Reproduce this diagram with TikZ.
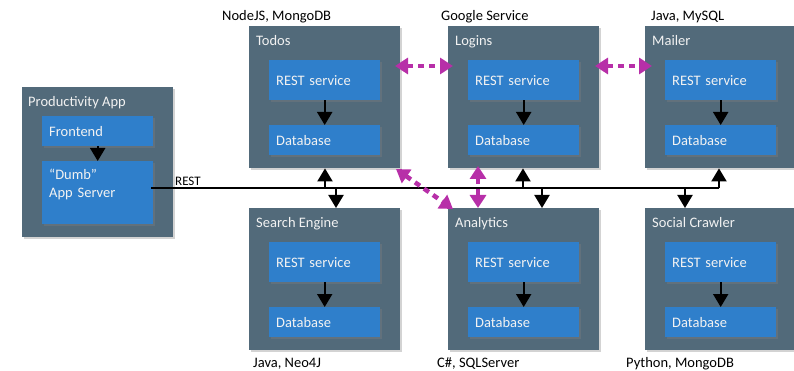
\documentclass[tikz,border=0pt]{standalone}
\usepackage{fontspec}
\setmainfont{Carlito}
\usetikzlibrary{arrows.meta,shadows,calc}
\definecolor{slate}{RGB}{82,106,122}
\definecolor{svcblue}{RGB}{47,127,203}
\definecolor{mag}{RGB}{183,47,168}
\definecolor{txt}{RGB}{242,242,242}
\tikzset{
  shd/.style={drop shadow={opacity=0.35, shadow xshift=2pt, shadow yshift=-2pt}},
  outerbox/.style={fill=slate, minimum width=151pt, minimum height=142pt, anchor=north west, inner sep=0pt, shd},
  innerbox/.style={fill=svcblue, text=txt, anchor=north west, minimum width=111pt, minimum height=#1, text width=97pt, inner xsep=7pt, inner ysep=0pt, align=left, font=\fontsize{14.5}{18.3}\selectfont, shd},
  boxtitle/.style={text=txt, anchor=base west, inner sep=0pt, font=\fontsize{14.5}{17}\selectfont},
  techlabel/.style={text=black, anchor=base west, inner sep=0pt, font=\fontsize{14.5}{17}\selectfont},
  blk/.style={line width=2pt, -{Triangle[length=13pt, width=15pt]}},
  mg/.style={mag, line width=4.5pt, dash pattern=on 6pt off 5pt, {Triangle[length=13pt,width=16pt]}-{Triangle[length=13pt,width=16pt]}}
}
\newcommand\mysvc[4]{%
  \node[outerbox] (#1) at (#2,#3) {};
  \node[boxtitle] (#1t) at ($(#1.north west)+(7,20)$) {#4};
  \node[innerbox=40pt] (#1r) at ($(#1.north west)+(20,34)$) {REST service};
  \node[innerbox=30pt] (#1d) at ($(#1.north west)+(20,99)$) {Database};
  \draw[blk] (#1r.south) -- (#1d.north);
}
\begin{document}
\begin{tikzpicture}[x=1pt,y=-1pt]
\useasboundingbox (0,0) rectangle (794,371);
% productivity app
\node[outerbox, minimum height=150pt] (prod) at (22,87) {};
\node[boxtitle] (prodt) at (28,107) {Productivity App};
\node[innerbox=30pt] (front) at (42,116) {Frontend};
\node[innerbox=63pt] (appsrv) at (42,161) {};
\node[boxtitle, align=left, anchor=north west, text width=100pt, font=\fontsize{14.5}{18.3}\selectfont] (appsrvt) at (49,169) {“Dumb”\\App Server};
\draw[blk] (front.south) -- (appsrv.north);
% services
\mysvc{todos}{249}{26}{Todos}
\mysvc{logins}{448}{26}{Logins}
\mysvc{mailer}{645}{26}{Mailer}
\mysvc{search}{249}{208}{Search Engine}
\mysvc{analytics}{448}{208}{Analytics}
\mysvc{social}{645}{208}{Social Crawler}
% tech labels
\node[techlabel] (l1) at (222,21) {NodeJS, MongoDB};
\node[techlabel] (l2) at (441,21) {Google Service};
\node[techlabel] (l3) at (651,21) {Java, MySQL};
\node[techlabel] (l4) at (253,367) {Java, Neo4J};
\node[techlabel] (l5) at (437,367) {C\#, SQLServer};
\node[techlabel] (l6) at (626,367) {Python, MongoDB};
% bus
\coordinate (busL) at (151,188);
\coordinate (busR) at (719,188);
\draw[line width=2pt] (busL) -- (busR);
\draw[blk] (busR) -- (busR |- mailer.south);
\node[techlabel, font=\fontsize{13}{15}\selectfont] (rest) at (175,186) {REST};
\coordinate (b1) at (325,188);
\coordinate (b2) at (336,188);
\coordinate (b3) at (523,188);
\coordinate (b4) at (542,188);
\coordinate (b5) at (685,188);
\draw[blk] (b1) -- (b1 |- todos.south);
\draw[blk] (b2) -- (b2 |- search.north);
\draw[blk] (b3) -- (b3 |- logins.south);
\draw[blk] (b4) -- (b4 |- analytics.north);
\draw[blk] (b5) -- (b5 |- social.north);
% magenta links
\coordinate (m1) at (395,66);
\coordinate (m2) at (453,66);
\coordinate (m3) at (595,66);
\coordinate (m4) at (652,66);
\draw[mg] (m1) -- (m2);
\draw[mg] (m3) -- (m4);
\coordinate (m5) at (396,169);
\coordinate (m6) at (453,209);
\draw[mg] (m5) -- (m6);
\coordinate (m7) at (478,166);
\coordinate (m8) at (478,208);
\draw[mg] (m7) -- (m8);
\end{tikzpicture}
\end{document}
